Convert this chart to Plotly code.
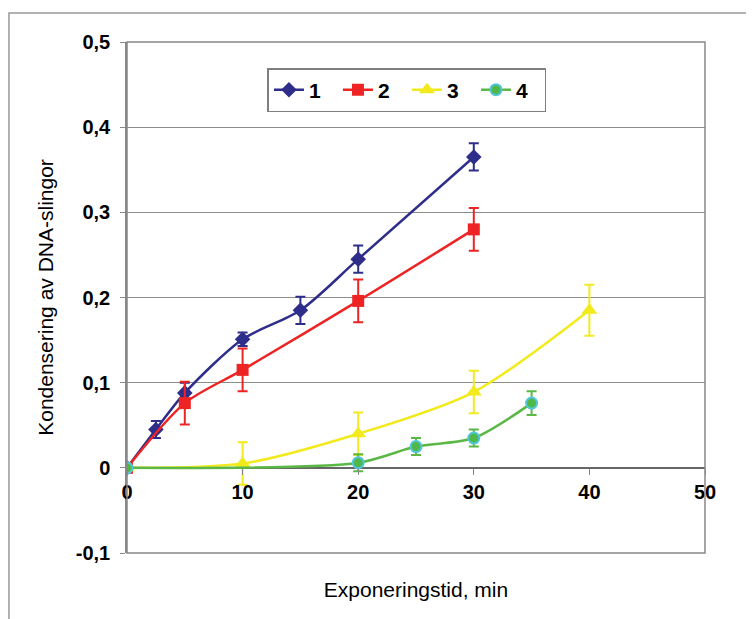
import plotly.graph_objects as go

# Series 1
x1 = [0, 2.5, 5, 10, 15, 20, 30]
y1 = [0, 0.045, 0.088, 0.151, 0.185, 0.245, 0.365]
e1 = [0, 0.01, 0.012, 0.008, 0.016, 0.016, 0.016]
# Series 2
x2 = [0, 5, 10, 20, 30]
y2 = [0, 0.076, 0.115, 0.196, 0.28]
e2 = [0, 0.025, 0.025, 0.025, 0.025]
# Series 3
x3 = [0, 10, 20, 30, 40]
y3 = [0, 0.005, 0.04, 0.089, 0.185]
e3 = [0, 0.025, 0.025, 0.025, 0.03]
# Series 4
x4 = [0, 20, 25, 30, 35]
y4 = [0, 0.006, 0.025, 0.035, 0.076]
e4 = [0, 0.01, 0.01, 0.01, 0.014]

names = ["1", "2", "3", "4"]
yticks = [-0.1, 0, 0.1, 0.2, 0.3, 0.4, 0.5]
yticklabels = ["-0,1", "0", "0,1", "0,2", "0,3", "0,4", "0,5"]
xticks = [0, 10, 20, 30, 40, 50]

FONT = "Liberation Sans, Arial, sans-serif"

series = [
    (x1, y1, e1, "#2E2E8A", dict(symbol="diamond", size=12, color="#2E2E8A")),
    (x2, y2, e2, "#EE2424", dict(symbol="square", size=12, color="#EE2424")),
    (x3, y3, e3, "#F2EA1C", dict(symbol="triangle-up", size=14, color="#F2EA1C")),
    (x4, y4, e4, "#5BB847", dict(symbol="circle", size=11, color="#4FB848",
                                 line=dict(color="#52C6DC", width=2))),
]

fig = go.Figure()
for (xs, ys, es, col, mk), nm in zip(series, names):
    fig.add_trace(go.Scatter(
        x=xs, y=ys, name=nm, mode="lines+markers",
        line=dict(color=col, width=2.5, shape="spline", smoothing=0.8),
        marker=mk,
        error_y=dict(type="data", array=es, visible=True, color=col,
                     thickness=2, width=5),
    ))

fig.update_layout(
    width=746, height=611,
    margin=dict(l=119, r=49, t=34, b=66, autoexpand=False),
    paper_bgcolor="white", plot_bgcolor="white",
    font=dict(family=FONT, color="black"),
    showlegend=True,
    legend=dict(
        orientation="h", x=0.243, y=0.949, xanchor="left", yanchor="top",
        bordercolor="#7F7F7F", borderwidth=1.5, bgcolor="white",
        font=dict(size=21, family=FONT, weight="bold"),
        itemwidth=30, tracegroupgap=0,
        entrywidth=24, entrywidthmode="pixels",
    ),
    xaxis=dict(
        range=[0, 50], tickvals=xticks, ticktext=[str(v) for v in xticks],
        anchor="free", position=1/6, automargin=False,
        showgrid=False, zeroline=False, showline=False,
        ticks="outside", ticklen=6, tickcolor="#888888",
        tickfont=dict(size=20, family=FONT, weight="bold"),
        title=dict(text="Exponeringstid, min", standoff=80,
                   font=dict(size=21, family=FONT)),
    ),
    yaxis=dict(
        range=[-0.1, 0.5], tickvals=yticks, ticktext=yticklabels,
        automargin=False, ticklabelstandoff=6,
        showgrid=True, gridcolor="#8C8C8C", gridwidth=1,
        zeroline=True, zerolinecolor="#666666", zerolinewidth=1.5,
        showline=True, linecolor="#888888", linewidth=1.5,
        ticks="outside", ticklen=5, tickcolor="#888888",
        tickfont=dict(size=20, family=FONT, weight="bold"),
        title=dict(text="Kondensering av DNA-slingor", standoff=16,
                   font=dict(size=21, family=FONT)),
    ),
    shapes=[
        dict(type="rect", xref="paper", yref="paper", x0=0, x1=1, y0=0, y1=1,
             line=dict(color="#888888", width=1.5), layer="above"),
        dict(type="rect", xref="paper", yref="paper", x0=-0.2042, x1=1.2,
             y0=-0.3, y1=1.0568, line=dict(color="#999999", width=1.5),
             layer="below"),
    ],
)

fig.write_html("out.html")
